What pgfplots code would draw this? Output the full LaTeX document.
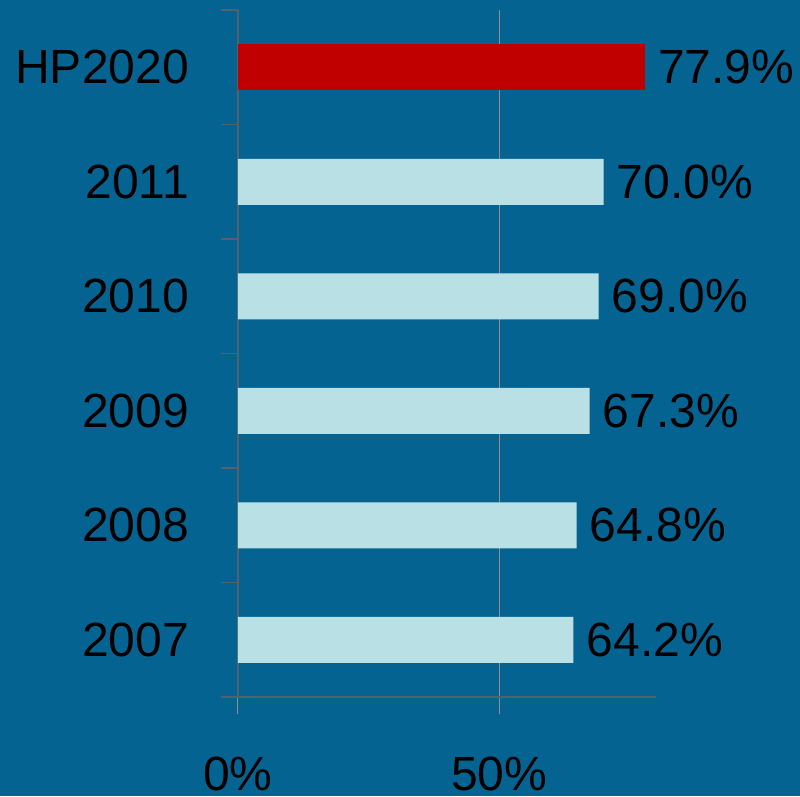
\documentclass[border=0pt]{standalone}
\usepackage{pgfplots}
\pgfplotsset{compat=1.18}
\usepackage{fontspec}
\setmainfont{Liberation Sans}
\definecolor{bg}{HTML}{056392}
\definecolor{lightbar}{HTML}{B9E0E4}
\definecolor{redbar}{HTML}{C00000}
\definecolor{axgray}{HTML}{56606A}
\definecolor{gridgray}{HTML}{8C9094}
\newcommand{\bigfont}{\fontsize{48}{56}\selectfont}
\begin{document}
\bigfont
\begin{tikzpicture}
\fill[bg] (-238pt,-99pt) rectangle (562pt,697pt);
\begin{axis}[
  scale only axis, width=418pt, height=687pt,
  xbar, bar width=46pt,
  xmin=0, xmax=80, ymin=-0.5, ymax=5.5,
  axis x line*=bottom, axis y line*=left,
  axis line style={axgray, line width=1.2pt},
  tick align=outside,
  major tick length=17pt, minor tick length=17pt,
  xtick={0,50}, xticklabels={0\%,50\%},
  ytick={0,...,5}, yticklabels={2007,2008,2009,2010,2011,HP2020},
  minor ytick={-0.5,0.5,...,5.5},
  major y tick style={draw=none},
  minor y tick style={axgray, line width=1.2pt},
  major x tick style={gridgray, line width=1pt},
  xmajorgrids,
  major x grid style={gridgray, line width=1.2pt},
  every tick label/.append style={font=\bigfont, text=black},
  xticklabel style={anchor=north, inner sep=0pt, yshift=-43pt},
  yticklabel style={anchor=east, inner sep=0pt, xshift=-32pt},
  nodes near coords={\pgfmathprintnumber[fixed,fixed zerofill,precision=1]{\pgfplotspointmeta}\%},
  /pgf/number format/assume math mode=true,
  every node near coord/.append style={font=\bigfont, text=black, anchor=west, inner sep=0pt, xshift=13pt},
]
\addplot[fill=lightbar, draw=none, bar shift=0pt] coordinates {(64.2,0) (64.8,1) (67.3,2) (69.0,3) (70.0,4)};
\addplot[fill=redbar, draw=none, bar shift=0pt] coordinates {(77.9,5)};
\end{axis}
\pgfresetboundingbox
\path[use as bounding box] (-238pt,-99pt) rectangle (562pt,697pt);
\end{tikzpicture}
\end{document}
